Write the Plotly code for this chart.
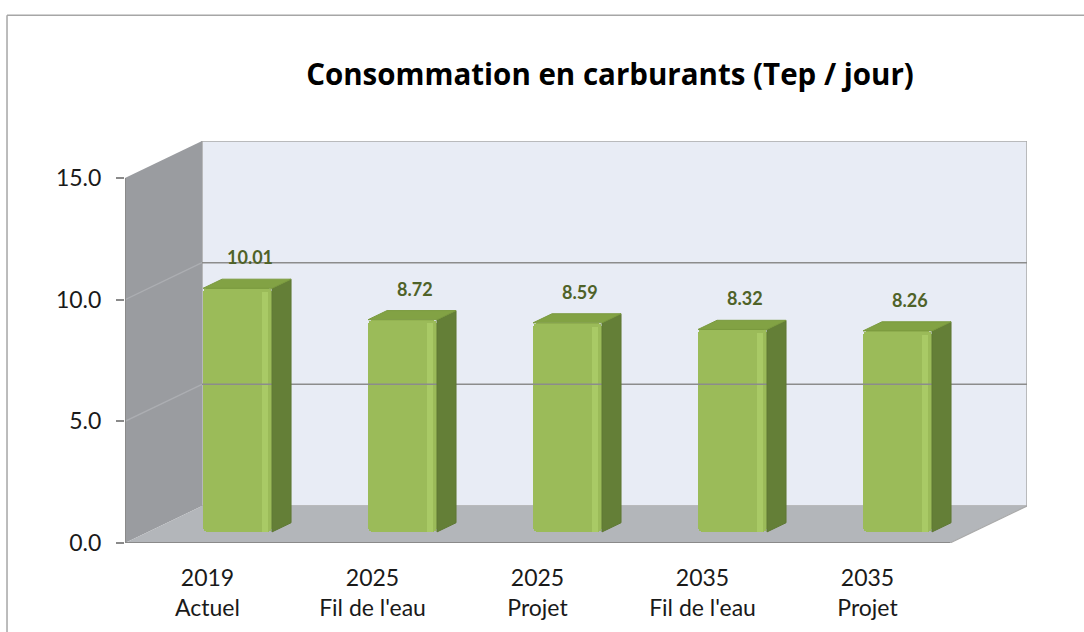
import plotly.graph_objects as go

# Data
categories = ["2019<br>Actuel", "2025<br>Fil de l'eau", "2025<br>Projet",
              "2035<br>Fil de l'eau", "2035<br>Projet"]
values = [10.01, 8.72, 8.59, 8.32, 8.26]
y_ticks = [0, 5, 10, 15]

# Oblique projection of the depth axis (category units, value units)
KX = 0.4667
KY = 1.52
# Bar footprint inside each category slot (x) and depth range (d)
XL, XR = 0.333, 0.751
D0, D1 = 0.30, 0.547
N = len(values)
YMAX = 15

FONT = "Lato, 'Open Sans', sans-serif"
TITLE_FONT = "'Open Sans', Lato, sans-serif"

fig = go.Figure()


def proj(x, y, d):
    return x + d * KX, y + d * KY


# Grid lines: on the side wall (diagonals) and on the back wall
gx, gy = [], []
for v in y_ticks[1:-1]:
    x0, y0 = proj(0, v, 0)
    x1, y1 = proj(0, v, 1)
    gx += [x0, x1, None]
    gy += [y0, y1, None]
fig.add_trace(go.Scatter(x=gx, y=gy, mode="lines",
                         line=dict(color="#acaeb2", width=1.3),
                         hoverinfo="skip", showlegend=False))
bx, by = [], []
for v in y_ticks[1:-1]:
    x1, y1 = proj(0, v, 1)
    x2, y2 = proj(N, v, 1)
    bx += [x1, x2, None]
    by += [y1, y2, None]
fig.add_trace(go.Scatter(x=bx, y=by, mode="lines",
                         line=dict(color="#8c8c8c", width=1.5),
                         hoverinfo="skip", showlegend=False))

# Bar side faces and top faces
sx, sy, tx, ty = [], [], [], []
for i, v in enumerate(values):
    pts = [proj(i + XR, 0, D0), proj(i + XR, 0, D1),
           proj(i + XR, v, D1), proj(i + XR, v, D0), proj(i + XR, 0, D0)]
    sx += [p[0] for p in pts] + [None]
    sy += [p[1] for p in pts] + [None]
    pts = [proj(i + XL, v, D0), proj(i + XR, v, D0), proj(i + XR, v, D1),
           proj(i + XL, v, D1), proj(i + XL, v, D0)]
    tx += [p[0] for p in pts] + [None]
    ty += [p[1] for p in pts] + [None]
fig.add_trace(go.Scatter(x=sx, y=sy, mode="lines", fill="toself",
                         fillcolor="#647f37", line=dict(color="#5f7934", width=1),
                         hoverinfo="skip", showlegend=False))
fig.add_trace(go.Scatter(x=tx, y=ty, mode="lines", fill="toself",
                         fillcolor="#82a244", line=dict(color="#7a9a3e", width=1),
                         hoverinfo="skip", showlegend=False))

# Bar front faces
front_x = [i + (XL + XR) / 2 + D0 * KX for i in range(N)]
fig.add_trace(go.Bar(x=front_x, y=values, base=[D0 * KY] * N,
                     width=XR - XL,
                     marker=dict(color="#9bbb59", line=dict(width=0), cornerradius=5),
                     hoverinfo="skip", showlegend=False))
# Glossy highlight stripe near the right edge of each front face
stripe_x = [i + XL + 0.375 + D0 * KX for i in range(N)]
fig.add_trace(go.Bar(x=stripe_x, y=[v - 0.15 for v in values], base=[D0 * KY] * N,
                     width=0.035,
                     marker=dict(color="#a9ca66", line=dict(width=0)),
                     hoverinfo="skip", showlegend=False))

# Value labels above each bar
for i, v in enumerate(values):
    lx, ly = proj(i + (XL + XR) / 2, v, (D0 + D1) / 2)
    fig.add_annotation(x=lx + 0.02, y=v + D1 * KY, text=f"{v:.2f}",
                       showarrow=False, yanchor="middle", yshift=22,
                       font=dict(family=FONT, size=18, color="#4f6228", weight="bold"))

# Walls and floor
ox, oy = KX, KY
shapes = [
    # back wall
    dict(type="path", xref="x", yref="y", layer="below",
         path=f"M {ox},{oy} L {ox},{YMAX+oy} L {N+ox},{YMAX+oy} L {N+ox},{oy} Z",
         fillcolor="#e8ecf5", line=dict(color="#a9a9a9", width=1.5)),
    # side wall
    dict(type="path", xref="x", yref="y", layer="below",
         path=f"M 0,0 L 0,{YMAX} L {ox},{YMAX+oy} L {ox},{oy} Z",
         fillcolor="#9a9ca0", line=dict(width=0)),
    # floor
    dict(type="path", xref="x", yref="y", layer="below",
         path=f"M 0,0 L {ox},{oy} L {N+ox},{oy} L {N},0 Z",
         fillcolor="#b3b6ba", line=dict(width=0)),
    # front edges of the box
    dict(type="line", xref="x", yref="y", x0=0, y0=0, x1=0, y1=YMAX,
         line=dict(color="#8a8a8a", width=2)),
    dict(type="line", xref="x", yref="y", x0=0, y0=0, x1=N, y1=0,
         line=dict(color="#8a8a8a", width=2)),
    dict(type="line", xref="x", yref="y", x0=N, y0=0, x1=N + ox, y1=oy,
         line=dict(color="#a9a9a9", width=1.2)),
    # chart area border
    dict(type="line", xref="paper", yref="paper", x0=-0.1308, y0=-0.3,
         x1=-0.1308, y1=1.313, line=dict(color="#a6a6a6", width=1.5)),
    dict(type="line", xref="paper", yref="paper", x0=-0.1308, y0=1.313,
         x1=1.2, y1=1.313, line=dict(color="#a6a6a6", width=1.5)),
]

fig.update_layout(
    width=1084, height=632,
    margin=dict(l=125, r=57, t=141, b=89),
    paper_bgcolor="white", plot_bgcolor="rgba(0,0,0,0)",
    barmode="overlay", bargap=0,
    shapes=shapes,
    title=dict(text="<b>Consommation en carburants (Tep / jour)</b>",
               x=610 / 1084, xanchor="center", y=1 - 75 / 632, yanchor="middle",
               font=dict(family=TITLE_FONT, size=29.5, color="#000000")),
    xaxis=dict(range=[0, N + KX], tickvals=[i + 0.5 for i in range(N)],
               ticktext=categories, showgrid=False, zeroline=False,
               showline=False, ticks="outside", ticklen=14,
               tickcolor="rgba(0,0,0,0)",
               tickfont=dict(family=FONT, size=23, color="#1a1a1a")),
    yaxis=dict(range=[0, YMAX + KY], tickvals=y_ticks, tickformat=".1f",
               showgrid=False, zeroline=False, showline=False,
               ticks="outside", ticklen=8, tickcolor="#8a8a8a", tickwidth=1.5,
               ticklabelstandoff=10,
               tickfont=dict(family=FONT, size=23, color="#1a1a1a")),
)

fig.write_html("out.html")
